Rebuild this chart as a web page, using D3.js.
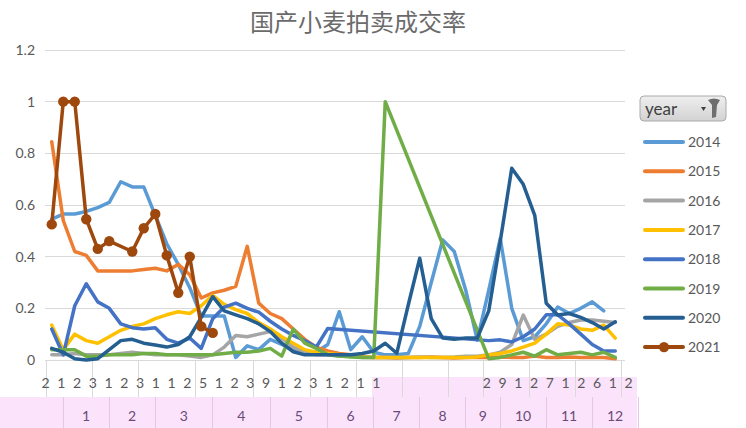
<!DOCTYPE html>
<html><head><meta charset="utf-8">
<script src="https://cdn.jsdelivr.net/npm/d3@7/dist/d3.min.js"></script>
<style>
body{margin:0;background:#fff;}
svg{display:block;font-family:Lato,"Noto Sans",sans-serif;}
</style>
</head><body>
<svg id="c" width="746" height="428"></svg>
<script>
// ---------------- DATA ----------------
const title = "国产小麦拍卖成交率";
const months = ["1","2","3","4","5","6","7","8","9","10","11","12"];
const monthSizes = [4,4,5,5,5,4,4,4,3,4,4,4];           // auction dates per month
const dayLabels = ["2","1","2","3","1","2","3","1","1","2","5","1","2","3","9","1","2","3","1","2","1","1",
                   "","","","","","","2","9","1","2","7","1","2","6","1","2"];
const yTicks = [0,0.2,0.4,0.6,0.8,1,1.2];
const years = ["2014","2015","2016","2017","2018","2019","2020","2021"];

const s2014 = [0.545,0.565,0.565,0.575,0.59,0.61,0.69,0.67,0.67,0.56,0.45,0.37,0.28,0.17,0.17,0.17,0.01,0.055,0.04,0.08,
               0.06,0.04,0.03,0.03,0.06,0.187,0.04,0.09,0.03,0.02,0.02,0.025,0.13,0.3,0.465,0.42,0.27,0.077,0.27,0.47,
               0.2,0.075,0.09,0.14,0.205,0.18,0.2,0.225,0.19,null];
const s2015 = [0.845,0.54,0.42,0.405,0.345,0.345,0.345,0.345,0.35,0.355,0.345,0.37,0.33,0.24,0.26,0.27,0.285,0.44,0.22,0.18,
               0.16,0.12,0.08,0.05,0.035,0.025,0.02,0.013,0.01,0.01,0.008,0.01,0.01,0.012,0.01,0.008,0.01,0.01,0.01,0.012,
               0.01,0.01,0.015,0.01,0.01,0.012,0.01,0.01,0.01,0.005];
const s2016 = [0.02,0.02,0.025,0.02,0.02,0.02,0.025,0.03,0.025,0.02,0.02,0.02,0.015,0.01,0.02,0.05,0.095,0.09,0.1,0.11,
               0.085,0.05,0.03,0.02,0.02,0.015,0.015,0.01,0.01,0.01,0.01,0.01,0.012,0.01,0.01,0.012,0.015,0.015,0.02,0.03,
               0.06,0.174,0.08,0.1,0.13,0.145,0.155,0.155,0.15,0.145];
const s2017 = [0.135,0.04,0.1,0.075,0.065,0.09,0.115,0.13,0.14,0.16,0.175,0.187,0.18,0.21,0.25,0.215,0.195,0.18,0.145,0.12,
               0.09,0.065,0.04,0.03,0.025,0.02,0.015,0.012,0.01,0.01,0.01,0.01,0.01,0.01,0.01,0.01,0.01,0.012,0.02,0.025,
               0.035,0.05,0.065,0.1,0.14,0.135,0.12,0.115,0.135,0.085];
const s2018 = [0.12,0.02,0.21,0.295,0.225,0.2,0.14,0.125,0.12,0.125,0.08,0.065,0.085,0.045,0.16,0.205,0.22,0.2,0.185,0.15,
               0.12,0.095,0.075,0.05,0.122,null,null,null,null,null,null,null,null,null,null,null,null,null,0.075,0.078,
               0.07,0.09,0.12,0.175,0.175,0.14,0.1,0.06,0.035,0.035];
const s2019 = [0.04,0.04,0.04,0.015,0.015,0.02,0.02,0.02,0.025,0.025,0.02,0.02,0.02,0.02,0.02,0.025,0.03,0.03,0.035,0.045,
               0.015,0.12,0.065,0.045,0.02,0.015,0.012,0.01,0.01,1.0,null,null,null,null,null,null,null,null,0.005,0.01,
               0.02,0.03,0.015,0.04,0.02,0.025,0.03,0.02,0.03,0.01];
const s2020 = [0.045,0.03,0.005,0.0,0.005,0.04,0.075,0.08,0.065,0.058,0.05,0.06,0.09,0.165,0.245,0.19,0.175,0.16,0.14,0.11,
               0.065,0.032,0.02,0.02,0.02,0.02,0.02,0.025,0.035,0.065,0.026,0.213,0.394,0.16,0.085,0.08,0.085,0.085,0.19,0.46,
               0.742,0.68,0.56,0.22,0.174,0.18,0.165,0.145,0.12,0.148];
const s2021 = [0.525,1.0,1.0,0.545,0.43,0.46,null,0.42,0.51,0.565,0.405,0.26,0.40,0.13,0.105,null,null,null,null,null,
               null,null,null,null,null,null,null,null,null,null,null,null,null,null,null,null,null,null,null,null,
               null,null,null,null,null,null,null,null,null,null];
const seriesValues = [s2014,s2015,s2016,s2017,s2018,s2019,s2020,s2021];

// ---------------- STYLE ----------------
const colors = ["#5B9BD5","#ED7D31","#A5A5A5","#FFC000","#4472C4","#70AD47","#255E91","#9E480E"];
const txt = "#595959";

const categories = months.flatMap((m,k)=>d3.range(monthSizes[k]).map(j=>m+"-"+(j+1)));
const monthStart = [];
{ let acc=0; monthSizes.forEach(n=>{monthStart.push(acc); acc+=n;}); }

const svg = d3.select("#c");
const L=45, R=625, T=50, B=360;
const x = d3.scaleBand().domain(categories).range([46,621]).padding(0);
const y = d3.scaleLinear().domain([0,1.2]).range([B,T]);
const cx = c => x(c)+x.bandwidth()/2;

// title
svg.append("text").attr("x",358).attr("y",31).attr("text-anchor","middle")
  .style("font-family",'"Noto Sans CJK SC","Noto Sans",sans-serif').style("font-size","24px")
  .attr("fill","#6b6b6b").text(title);

// bottom pink band (shifted month row as in the picture)
svg.append("rect").attr("x",372).attr("y",377).attr("width",265).attr("height",20).attr("fill","#FBE4FB");
svg.append("rect").attr("x",0).attr("y",397).attr("width",637).attr("height",31).attr("fill","#FBE4FB");

// gridlines
svg.append("g").selectAll("line").data(yTicks).join("line")
  .attr("x1",L).attr("x2",R).attr("y1",d=>y(d)).attr("y2",d=>y(d))
  .attr("stroke","#D9D9D9").attr("stroke-width",1).attr("shape-rendering","crispEdges");

// y axis labels
const ya = svg.append("g").attr("transform",`translate(35,0)`)
  .call(d3.axisLeft(y).tickValues(yTicks).tickSize(0).tickPadding(0).tickFormat(d=>String(d)));
ya.select(".domain").remove();
ya.selectAll("text").attr("fill",txt).style("font-size","14px").style("font-family","Lato,sans-serif");

// month boundary lines in the label area
const bounds = monthStart.map(s=>x(categories[s])).concat([x.range()[1]]);
svg.append("g").selectAll("line").data(bounds).join("line")
  .attr("x1",d=>d).attr("x2",d=>d).attr("y1",B).attr("y2",397)
  .attr("stroke","#D9D9D9").attr("shape-rendering","crispEdges");

// inner (day) labels
const dayScale = d3.scalePoint().domain(d3.range(dayLabels.length)).range([45,628]);
const xa = svg.append("g").attr("transform",`translate(0,${B})`)
  .call(d3.axisBottom(dayScale).tickSize(0).tickPadding(18).tickFormat(i=>dayLabels[i]));
xa.select(".domain").remove();
xa.selectAll("text").attr("fill",txt).style("font-size","14px").style("font-family","Lato,sans-serif");

// month row (drawn with the offset seen in the picture)
const monthRow = svg.append("g").attr("transform","translate(17,0)");
monthRow.selectAll("line").data(bounds).join("line")
  .attr("x1",d=>d).attr("x2",d=>d).attr("y1",397).attr("y2",428)
  .attr("stroke","#E6C6E6").attr("shape-rendering","crispEdges");
monthRow.selectAll("text").data(months).join("text")
  .attr("x",(m,k)=>(bounds[k]+bounds[k+1])/2).attr("y",421).attr("text-anchor","middle")
  .attr("fill","#6A4A78").style("font-size","14px").text(m=>m);

// axis baseline
svg.append("line").attr("x1",L).attr("x2",R).attr("y1",B).attr("y2",B)
  .attr("stroke","#D9D9D9").attr("shape-rendering","crispEdges");

// lines
const line = d3.line().x(d=>cx(d.c)).y(d=>y(d.v));
years.forEach((yr,k)=>{
  const pts = categories.map((c,i)=>({c, v:seriesValues[k][i]})).filter(d=>d.v!=null);
  svg.append("path").datum(pts).attr("d",line).attr("fill","none")
    .attr("stroke",colors[k]).attr("stroke-width",3.5)
    .attr("stroke-linejoin","round").attr("stroke-linecap","round");
  if(yr==="2021"){
    svg.append("g").selectAll("circle").data(pts).join("circle")
      .attr("cx",d=>cx(d.c)).attr("cy",d=>y(d.v)).attr("r",5.2).attr("fill",colors[k]);
  }
});

// legend: field button
const defs = svg.append("defs");
const gr = defs.append("linearGradient").attr("id","btn").attr("x1",0).attr("x2",0).attr("y1",0).attr("y2",1);
gr.append("stop").attr("offset","0%").attr("stop-color","#EFEFEF");
gr.append("stop").attr("offset","100%").attr("stop-color","#D2D2D2");
const btn = svg.append("g");
btn.append("rect").attr("x",640).attr("y",96).attr("width",86).attr("height",25).attr("rx",4)
  .attr("fill","url(#btn)").attr("stroke","#AAAAAA");
btn.append("text").attr("x",645).attr("y",115).attr("fill","#404040").style("font-size","17px").text("year");
btn.append("path").attr("d","M701,107 L706,107 L703.5,111 Z").attr("fill","#404040");
btn.append("path").attr("d","M708,100 Q714,97 720,100 L717,105 L716,117 L712,118 L712,105 Z").attr("fill","#6E6E6E");

// legend entries
const lg = svg.append("g");
years.forEach((yr,k)=>{
  const ly = 142 + k*29.3;
  lg.append("line").attr("x1",645).attr("x2",683).attr("y1",ly).attr("y2",ly)
    .attr("stroke",colors[k]).attr("stroke-width",4).attr("stroke-linecap","round");
  if(yr==="2021") lg.append("circle").attr("cx",664).attr("cy",ly).attr("r",5.2).attr("fill",colors[k]);
  lg.append("text").attr("x",688).attr("y",ly+5).attr("fill",txt).style("font-size","14px").text(yr);
});
</script>
</body></html>
